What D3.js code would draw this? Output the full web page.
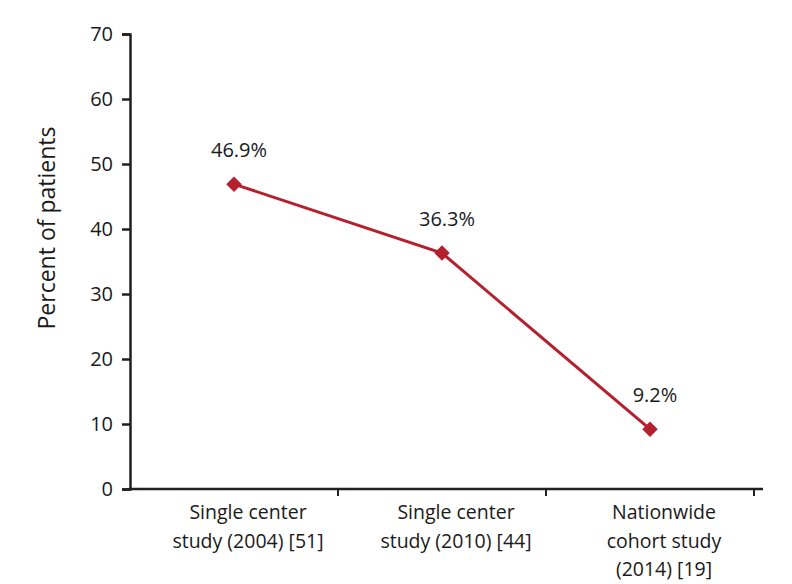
<!DOCTYPE html>
<html><head><meta charset="utf-8">
<script src="https://cdn.jsdelivr.net/npm/d3@7"></script>
<style>
html,body{margin:0;padding:0;background:#fff;}
text{font-family:"Open Sans",Lato,sans-serif;fill:#1a1a1a;}
</style></head>
<body>
<svg id="chart" width="792" height="584"></svg>
<script>
const categories = [
  ["Single center", "study (2004) [51]"],
  ["Single center", "study (2010) [44]"],
  ["Nationwide", "cohort study", "(2014) [19]"]
];
const values = [46.9, 36.3, 9.2];
const valueLabels = ["46.9%", "36.3%", "9.2%"];
const yTicks = [0, 10, 20, 30, 40, 50, 60, 70];
const yTitle = "Percent of patients";

const svg = d3.select("#chart");
const color = "#b5202e";
const axisColor = "#231f20";
const font = "'Open Sans', Lato, sans-serif";

const x = d3.scaleBand().domain(d3.range(categories.length)).range([130, 754]).padding(0);
const y = d3.scaleLinear().domain([0, 70]).range([489, 34]);

// Y axis
const yAxis = svg.append("g").attr("transform", "translate(130,0)")
  .call(d3.axisLeft(y).tickValues(yTicks).tickSize(8).tickSizeOuter(8).tickPadding(9));
yAxis.select(".domain").attr("stroke", axisColor).attr("stroke-width", 2.5);
yAxis.selectAll(".tick line").attr("stroke", axisColor).attr("stroke-width", 2.5);
yAxis.selectAll(".tick text").style("font-size", "20px").attr("fill", "#1a1a1a")
  .style("font-family", font);

// X axis line
svg.append("line")
  .attr("x1", x.range()[0] - 1.25).attr("x2", x.range()[1] + 9)
  .attr("y1", y(0)).attr("y2", y(0))
  .attr("stroke", axisColor).attr("stroke-width", 2.5);
// X ticks at band boundaries
svg.selectAll(".xtick").data(d3.range(1, categories.length + 1)).join("line")
  .attr("class", "xtick")
  .attr("x1", d => x.range()[0] + d * x.step()).attr("x2", d => x.range()[0] + d * x.step())
  .attr("y1", y(0)).attr("y2", y(0) + 7)
  .attr("stroke", axisColor).attr("stroke-width", 2);

// X labels
const xl = svg.selectAll(".xlab").data(categories).join("text")
  .attr("class", "xlab")
  .attr("text-anchor", "middle")
  .style("font-size", "19.5px")
  .attr("transform", (d, i) => `translate(${x(i) + x.bandwidth() / 2 + 14},519)`);
xl.selectAll("tspan").data(d => d).join("tspan")
  .attr("x", 0).attr("y", (d, i) => i * 28.5).text(d => d);

// Y title
svg.append("text")
  .attr("transform", "translate(55,228) rotate(-90)")
  .attr("text-anchor", "middle")
  .style("font-size", "23px")
  .text(yTitle);

// Line
const cx = i => x(i) + x.bandwidth() / 2;
svg.append("path")
  .datum(values)
  .attr("d", d3.line().x((d, i) => cx(i)).y(d => y(d)))
  .attr("fill", "none").attr("stroke", color).attr("stroke-width", 3);

// Markers
svg.selectAll(".mk").data(values).join("path")
  .attr("class", "mk")
  .attr("d", d3.symbol(d3.symbolSquare, 120)())
  .attr("transform", (d, i) => `translate(${cx(i)},${y(d)}) rotate(45)`)
  .attr("fill", color);

// Value labels
svg.selectAll(".vl").data(values).join("text")
  .attr("class", "vl")
  .attr("text-anchor", "middle")
  .style("font-size", "20px")
  .attr("x", (d, i) => cx(i) + 5)
  .attr("y", d => y(d) - 27)
  .text((d, i) => valueLabels[i]);
</script>
</body></html>
